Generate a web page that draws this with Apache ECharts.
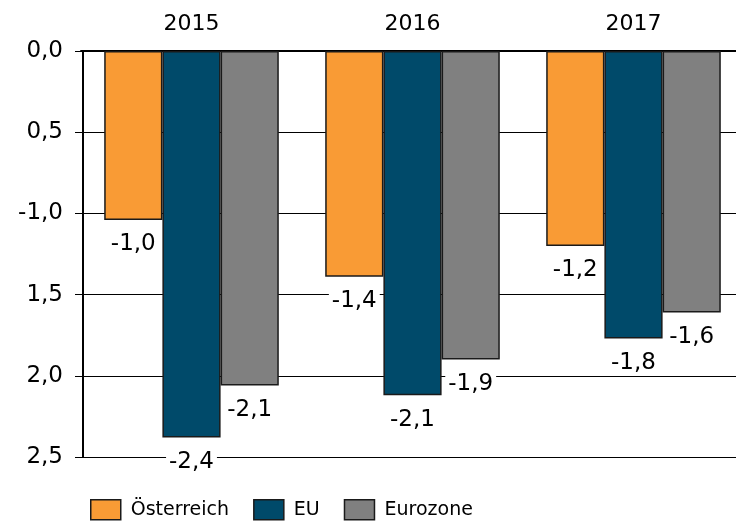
<!DOCTYPE html>
<html lang="de">

<head>
  <meta charset="UTF-8">
  <title>Chart</title>
  <style>
    html, body { margin: 0; padding: 0; background: #fff; }
    .chart { width: 736px; height: 526px; }
  </style>
</head>

<body>
  <div class="chart"></div>
  <script src="https://cdn.jsdelivr.net/npm/echarts@6/dist/echarts.min.js"></script>
  <script>
    let years = ['2015', '2016', '2017'];
    let seriesNames = ['Österreich', 'EU', 'Eurozone'];
    let oesterreich = [-1.04, -1.39, -1.2];
    let eu = [-2.38, -2.12, -1.77];
    let eurozone = [-2.06, -1.9, -1.61];
    let colors = ['#F99B35', '#004A6A', '#808080'];
    // tick labels as printed in the original (including its odd signs)
    let tickValues = [0, -0.5, -1, -1.5, -2, -2.5];
    let tickLabels = ['0,0', '0,5', '-1,0', '1,5', '2,0', '2,5'];

    window.onload = function () {
      let myChart = echarts.init(document.querySelector('.chart'));
      let font = 'DejaVu Sans';

      function fmt(v) {
        return v.toFixed(1).replace('.', ',');
      }

      let seriesData = [oesterreich, eu, eurozone];

      let option = {
        animation: false,
        textStyle: { fontFamily: font },
        grid: { left: 81, top: 51, width: 663, height: 406, outerBoundsMode: 'none' },
        legend: {
          left: 90,
          top: 499,
          padding: 0,
          icon: 'rect',
          itemWidth: 30,
          itemHeight: 20,
          itemGap: 24,
          textStyle: { fontSize: 19, color: '#000', fontFamily: font, padding: [0, 0, 0, 5] },
          itemStyle: { borderColor: '#1a1a1a', borderWidth: 1.5 },
          data: seriesNames
        },
        xAxis: {
          type: 'category',
          position: 'top',
          data: years,
          axisLine: { lineStyle: { color: '#000', width: 2 } },
          axisTick: { show: false },
          axisLabel: { fontSize: 22, color: '#000', margin: 16, fontFamily: font }
        },
        yAxis: {
          type: 'value',
          min: -2.5,
          max: 0,
          interval: 0.5,
          offset: -2,
          axisLine: { show: true, lineStyle: { color: '#000', width: 2 } },
          axisTick: { show: true, length: 8, lineStyle: { color: '#000', width: 1 } },
          splitLine: { lineStyle: { color: '#000', width: 1 } },
          axisLabel: {
            fontSize: 23,
            color: '#000',
            margin: 20,
            fontFamily: font,
            formatter: function (v) {
              let i = tickValues.findIndex(t => Math.abs(t - v) < 1e-6);
              return i >= 0 ? tickLabels[i] : '';
            }
          }
        },
        series: seriesNames.map((name, i) => ({
          name: name,
          type: 'bar',
          barGap: '0%',
          barCategoryGap: '21%',
          data: seriesData[i],
          itemStyle: { color: colors[i], borderColor: '#1a1a1a', borderWidth: 1.5 },
          label: {
            show: true,
            position: 'bottom',
            distance: 12,
            fontSize: 23,
            color: '#000',
            fontFamily: font,
            backgroundColor: '#fff',
            padding: [1, 3],
            formatter: p => fmt(p.value)
          }
        }))
      };
      myChart.setOption(option);
    };
  </script>
</body>

</html>
